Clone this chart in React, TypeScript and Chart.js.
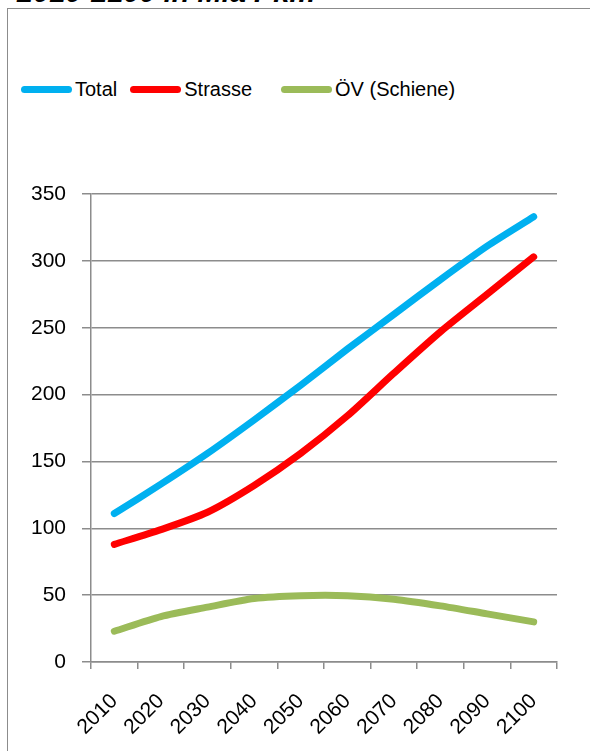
import React, { useEffect, useRef } from "react";
import { Chart, registerables } from "chart.js";

Chart.register(...registerables);

const categories = ["2010", "2020", "2030", "2040", "2050", "2060", "2070", "2080", "2090", "2100"];
const totalValues = [111, 133, 156, 181, 207, 234, 260, 286, 311, 333];
const strasseValues = [88, 99, 112, 132, 156, 184, 216, 247, 275, 303];
const oevValues = [23, 34, 41, 47.5, 49.6, 49.6, 47, 42, 36, 30];
const seriesLabels = ["Total", "Strasse", "ÖV (Schiene)"];
const seriesColors = ["#00B0F0", "#FF0000", "#9BBB59"];
const titleText = "2010-2100 in Mia Pkm";

const FONT = "'Liberation Sans', Arial, sans-serif";
const GRID = "#8c8c8c";

export default function App() {
  const ref = useRef<HTMLCanvasElement | null>(null);

  useEffect(() => {
    if (!ref.current) return;
    const seriesValues = [totalValues, strasseValues, oevValues];
    const chart = new Chart(ref.current, {
      type: "line",
      data: {
        labels: categories,
        datasets: seriesLabels.map((label, i) => ({
          label,
          data: seriesValues[i],
          borderColor: seriesColors[i],
          backgroundColor: seriesColors[i],
          borderWidth: 7,
          pointRadius: 0,
          tension: 0.25,
          borderCapStyle: "round" as const,
          borderJoinStyle: "round" as const,
          fill: false,
        })),
      },
      options: {
        responsive: false,
        animation: false,
        layout: { padding: { top: 194, right: 33, left: 0, bottom: 0 } },
        plugins: { legend: { display: false }, tooltip: { enabled: false }, title: { display: false } },
        scales: {
          x: {
            type: "category",
            offset: true,
            grid: {
              offset: true,
              drawOnChartArea: false,
              drawTicks: true,
              tickLength: 7,
              color: GRID,
              lineWidth: 1.5,
            },
            border: { color: GRID, width: 1.5 },
            ticks: {
              minRotation: 45,
              maxRotation: 45,
              autoSkip: false,
              color: "#000",
              font: { family: FONT, size: 21 },
              padding: 20,
            },
            afterFit: (s: any) => {
              s.height = 89;
            },
          },
          y: {
            min: 0,
            max: 350,
            ticks: {
              stepSize: 50,
              color: "#000",
              font: { family: FONT, size: 21 },
              padding: 16,
            },
            grid: { color: GRID, lineWidth: 1.5, tickLength: 9, drawTicks: true },
            border: { color: GRID, width: 1.5 },
            afterFit: (s: any) => {
              s.width = 91;
            },
          },
        },
      },
    });
    return () => chart.destroy();
  }, []);

  const legendItem = (i: number, marginLeft: number) => (
    <div key={i} style={{ display: "flex", alignItems: "center", marginLeft }}>
      <div
        style={{
          width: 51,
          height: 7,
          borderRadius: 4,
          background: seriesColors[i],
        }}
      />
      <span style={{ marginLeft: 3, fontFamily: FONT, fontSize: 20, color: "#000" }}>{seriesLabels[i]}</span>
    </div>
  );

  return (
    <div
      style={{
        position: "fixed",
        left: 0,
        top: 0,
        width: 590,
        height: 751,
        overflow: "hidden",
        background: "#fff",
      }}
    >
      <div
        style={{
          position: "absolute",
          left: 17,
          top: -22,
          lineHeight: "29px",
          fontFamily: FONT,
          fontWeight: "bold",
          fontStyle: "italic",
          fontSize: 29,
          whiteSpace: "nowrap",
          color: "#000",
        }}
      >
        {titleText}
      </div>
      <div
        style={{
          position: "absolute",
          left: 7,
          top: 8,
          width: 620,
          height: 800,
          border: "1.5px solid #8c8c8c",
          background: "#fff",
        }}
      />
      <div
        style={{
          position: "absolute",
          left: 0,
          top: 77,
          height: 24,
          display: "flex",
          alignItems: "center",
        }}
      >
        {legendItem(0, 21)}
        {legendItem(1, 13)}
        {legendItem(2, 29)}
      </div>
      <canvas
        ref={ref}
        width={590}
        height={751}
        style={{ position: "absolute", left: 0, top: 0, width: 590, height: 751 }}
      />
    </div>
  );
}
